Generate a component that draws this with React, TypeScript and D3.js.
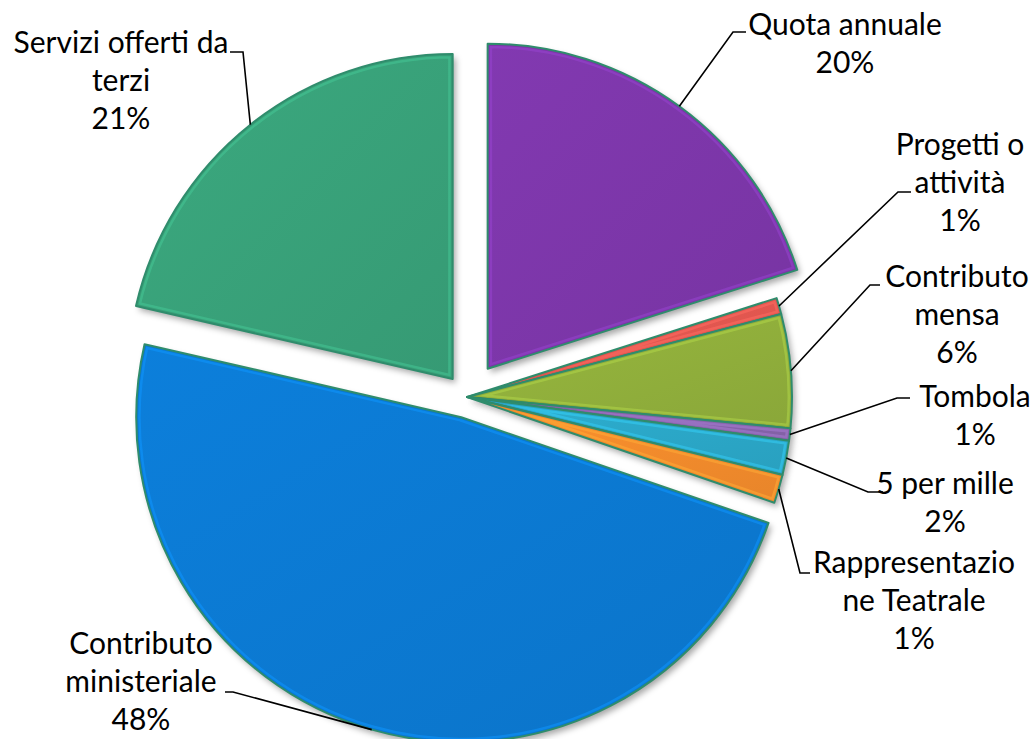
import React from 'react';
import * as d3 from 'd3';

// ---- data ----
const categories = [
  'Quota annuale',
  'Progetti o attività',
  'Contributo mensa',
  'Tombola',
  '5 per mille',
  'Rappresentazione Teatrale',
  'Contributo ministeriale',
  'Servizi offerti da terzi',
];
const values = [19.9, 0.8, 5.6, 0.6, 1.7, 1.4, 47.9, 21.2];
const labelLines = [
  ['Quota annuale'],
  ['Progetti o', 'attività'],
  ['Contributo', 'mensa'],
  ['Tombola'],
  ['5 per mille'],
  ['Rappresentazio', 'ne Teatrale'],
  ['Contributo', 'ministeriale'],
  ['Servizi offerti da', 'terzi'],
];
const colors = ['#7b36a8', '#e0564f', '#8fad3b', '#8764ab', '#2ba6c6', '#f08a2c', '#0b78d0', '#38a078'];

// ---- layout ----
const W = 1035;
const H = 739;
const CX = 467;
const CY = 397;
const R = 325;
const explode = [35, 0, 0, 0, 0, 0, 21, 23];
const LINE_H = 38;
const labelLayout = [
  { x: 845, y: 23, elbow: [733, 32], end: [746, 32] },
  { x: 960, y: 143, elbow: [898, 192], end: [911, 192] },
  { x: 957, y: 275, elbow: [870, 285], end: [880, 285] },
  { x: 975, y: 395, elbow: [897, 398], end: [910, 398] },
  { x: 945, y: 482, elbow: [868, 492], end: [883, 492] },
  { x: 914, y: 561, elbow: [800, 573], end: [810, 573] },
  { x: 141, y: 642, elbow: [233, 692], end: [225, 692] },
  { x: 121, y: 41, elbow: [243, 52], end: [230, 52] },
];

export default function App() {
  const total = d3.sum(values);
  const pie = d3
    .pie<number>()
    .sort(null)
    .startAngle(0)
    .endAngle(2 * Math.PI);
  const arcs = pie(values);
  const arcGen = d3.arc<d3.PieArcDatum<number>>().innerRadius(0).outerRadius(R);
  const edgeGen = d3.arc<d3.PieArcDatum<number>>().innerRadius(R).outerRadius(R);

  const offsets = arcs.map((a, i) => {
    const mid = (a.startAngle + a.endAngle) / 2;
    return [explode[i] * Math.sin(mid), -explode[i] * Math.cos(mid)];
  });

  const drawOrder = [6, 7, 0, 1, 2, 3, 4, 5];

  return (
    <svg
      width={W}
      height={H}
      style={{ position: 'fixed', left: 0, top: 0, background: '#ffffff' }}
      fontFamily="Lato, 'Open Sans', sans-serif"
    >
      <defs>
        <filter id="shadow" x="-20%" y="-20%" width="140%" height="140%">
          <feDropShadow dx="3" dy="4" stdDeviation="3" floodColor="#000" floodOpacity="0.35" />
        </filter>
        {arcs.map((a, i) => (
          <clipPath id={`clip-${i}`} key={`c${i}`}>
            <path d={arcGen(a) || ''} />
          </clipPath>
        ))}
        {arcs.map((a, i) => (
          <linearGradient id={`grad-${i}`} key={`g${i}`} x1="0" y1="0" x2="1" y2="1">
            <stop offset="0%" stopColor={d3.color(colors[i])!.brighter(0.15).toString()} />
            <stop offset="100%" stopColor={d3.color(colors[i])!.darker(0.1).toString()} />
          </linearGradient>
        ))}
      </defs>
      <rect width={W} height={H} fill="#ffffff" />
      {drawOrder.map((i) => {
        const a = arcs[i];
        const [dx, dy] = offsets[i];
        return (
          <g key={categories[i]} transform={`translate(${CX + dx},${CY + dy})`}>
            <path d={arcGen(a) || ''} fill={colors[i]} filter="url(#shadow)" />
            <g clipPath={`url(#clip-${i})`}>
              <path d={arcGen(a) || ''} fill={`url(#grad-${i})`} />
              <path
                d={arcGen(a) || ''}
                fill="none"
                stroke={d3.color(colors[i])!.brighter(0.6).toString()}
                strokeOpacity={0.55}
                strokeWidth={9}
                strokeLinejoin="round"
              />
              <path
                d={arcGen(a) || ''}
                fill="none"
                stroke={colors[i]}
                strokeWidth={4}
                strokeLinejoin="round"
              />
            </g>
            <path
              d={arcGen(a) || ''}
              fill="none"
              stroke="#2f8c6c"
              strokeWidth={2}
              strokeLinejoin="round"
            />
          </g>
        );
      })}
      {arcs.map((a, i) => {
        const [dx, dy] = offsets[i];
        const c = edgeGen.centroid(a);
        const p0 = [CX + dx + c[0], CY + dy + c[1]];
        const L = labelLayout[i];
        const pts = [p0, L.elbow, L.end];
        return (
          <path
            key={`l${i}`}
            d={d3.line()(pts as [number, number][]) || ''}
            fill="none"
            stroke="#000"
            strokeWidth={1.6}
          />
        );
      })}
      {arcs.map((a, i) => {
        const L = labelLayout[i];
        const lines = [...labelLines[i], `${Math.round((values[i] / total) * 100)}%`];
        return (
          <text key={`t${i}`} textAnchor="middle" fontSize={30} fill="#000">
            {lines.map((s, k) => (
              <tspan key={k} x={L.x} y={L.y + k * LINE_H} dominantBaseline="central">
                {s}
              </tspan>
            ))}
          </text>
        );
      })}
    </svg>
  );
}
